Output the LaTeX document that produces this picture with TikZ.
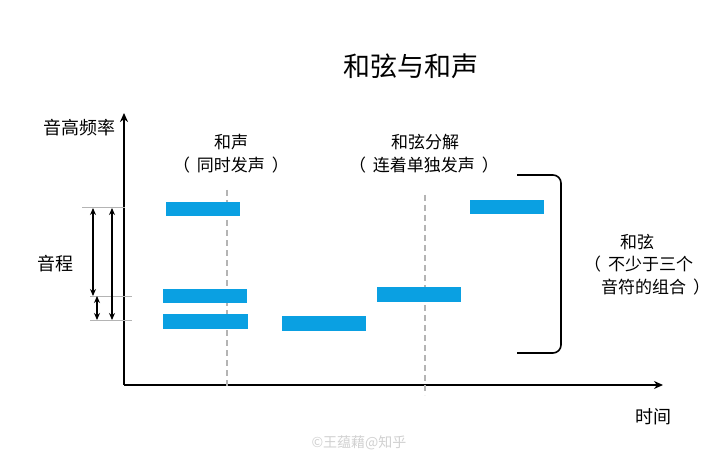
\documentclass[tikz,border=0pt]{standalone}
\usepackage{fontspec}
\setmainfont{Noto Sans CJK SC}
\definecolor{noteBlue}{HTML}{0AA0E2}
\definecolor{guideGray}{HTML}{B4B4B4}
\usetikzlibrary{arrows.meta, positioning}
\newcommand{\openpar}{（\hspace*{7pt}}
\newcommand{\closepar}{\hspace*{7pt}）}

\tikzset{
  note/.style={fill=noteBlue},
  guide/.style={guideGray, line width=1pt},
  beat/.style={guideGray, line width=1.2pt, dash pattern=on 6pt off 4pt},
  span/.style={line width=2pt, {Stealth[length=7pt,width=6pt]}-{Stealth[length=7pt,width=6pt]}},
  lbl/.style={font=\fontsize{17}{19}\selectfont, inner sep=0pt}
}

\begin{document}
\begin{tikzpicture}[x=1pt, y=-1pt]
  \useasboundingbox[fill=white] (0,0) rectangle (720,457);

  % Title
  \node[font=\fontsize{27}{30}\selectfont, inner sep=0pt] (title) at (411,66) {和弦与和声};

  % Axis
  \draw[line width=2.2pt, -{Stealth[length=9pt,width=8pt]}] (124,385) -- (663,385);
  \draw[line width=2.2pt, -{Stealth[length=9pt,width=8pt]}] (124,385) -- (124,113);
  \node[lbl, font=\fontsize{18}{20}\selectfont] (yname) at (79,128) {音高频率};
  \node[lbl, font=\fontsize{18}{20}\selectfont] (xname) at (653,417) {时间};

  % Beat lines
  \draw[beat] (227,190) -- (227,388);
  \draw[beat] (425,195) -- (425,395);

  % Notes
  \fill[note] (166,202) rectangle (240,216);
  \fill[note] (163,289) rectangle (247,303);
  \fill[note] (163,314) rectangle (248,329);
  \fill[note] (282,316) rectangle (366,331);
  \fill[note] (377,287) rectangle (461,302);
  \fill[note] (470,200) rectangle (544,214);

  % Labels
  \node[lbl] (harm) at (231,142) {和声};
  \node[lbl] (harmnote) at (231,165) {\openpar 同时发声\closepar};
  \node[lbl] (arp) at (425,142) {和弦分解};
  \node[lbl] (arpnote) at (424,165) {\openpar 连着单独发声\closepar};

  % Interval
  \draw[guide] (82,208) -- (125,208);
  \draw[guide] (90,296) -- (132,296);
  \draw[guide] (90,320) -- (132,320);
  \coordinate (topA) at (93,208);
  \coordinate (midA) at (93,296);
  \coordinate (midB) at (97,296);
  \coordinate (lowB) at (97,320);
  \coordinate (topC) at (112,208);
  \coordinate (lowC) at (112,320);
  \draw[span] (topA) -- (midA);
  \draw[span] (midB) -- (lowB);
  \draw[span] (topC) -- (lowC);
  \node[lbl, font=\fontsize{18}{20}\selectfont] (interval) at (55,264) {音程};

  % Bracket
  \draw[line width=1.6pt, rounded corners=8pt] (517,175) -- (561,175) -- (561,353) -- (517,353);
  \node[lbl] (chord) at (637,242) {和弦};
  \node[lbl, anchor=west] (chordA) at (584,264) {\openpar 不少于三个};
  \node[lbl, anchor=west] (chordB) at (601,287) {音符的组合\closepar};

  % Watermark
  \node[font=\fontsize{14}{16}\selectfont, text=black!18, inner sep=0pt] (mark) at (359,443) {©王蕴藉@知乎};
\end{tikzpicture}
\end{document}
